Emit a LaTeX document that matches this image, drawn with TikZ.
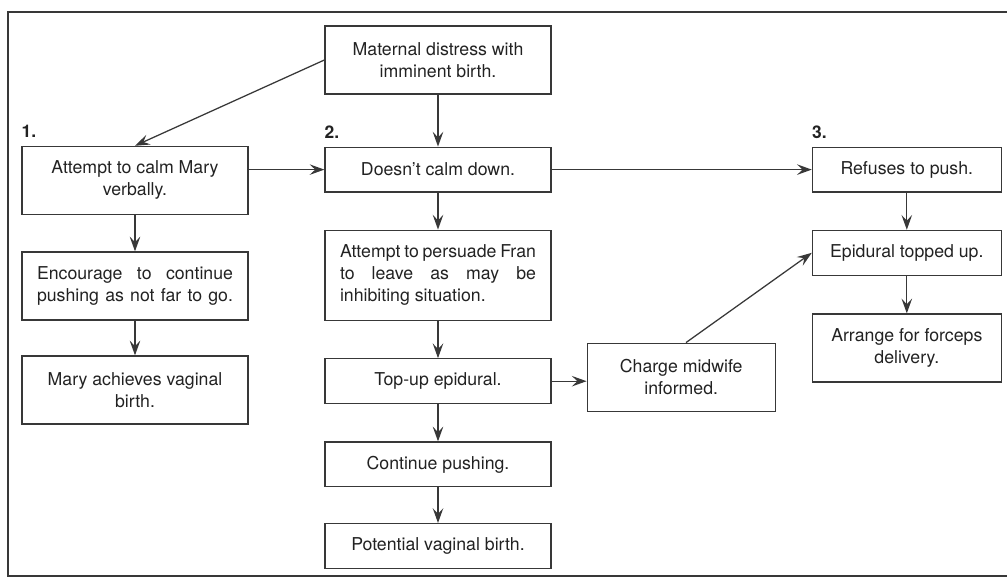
\documentclass[tikz,border=0pt]{standalone}
\usepackage{fontspec}
\setmainfont{TeX Gyre Heros}
\usetikzlibrary{positioning, arrows.meta}
\definecolor{linegray}{HTML}{383838}
\definecolor{textgray}{HTML}{222222}
\tikzstyle{box} = [draw=linegray, line width=0.9pt, rectangle, text=textgray, align=center, minimum width=5.65cm, minimum height=1.12cm, inner sep=2pt, font=\fontsize{12.6}{15.6}\selectfont]
\tikzstyle{tall} = [minimum height=1.7cm]
\tikzstyle{narrow} = [minimum width=4.72cm]
\tikzstyle{numlabel} = [anchor=south west, inner sep=0pt, text=textgray, font=\bfseries\fontsize{12.4}{14}\selectfont]
\tikzstyle{myarrow} = [draw=linegray, line width=0.9pt, -{Stealth[length=10.5pt, width=7.5pt, inset=4pt]}]
\newcommand{\fillline}[1]{\makebox[4.9cm][s]{#1}}

\begin{document}
\begin{tikzpicture}[>=Stealth, node distance=2.64cm, auto]
		\useasboundingbox (0,0) rectangle (25.175,-14.425);
		
		% frame
		\draw[linegray, line width=1pt] (25.6,-0.3) -- (0.2,-0.3) -- (0.2,-14.4) -- (25.6,-14.4);
		
		% column 2
		\node[box, tall] (maternal) at (10.95,-1.5) {Maternal distress with\\imminent birth.};
		\node[box, below of=maternal, node distance=2.74cm] (doesnt) {Doesn't calm down.};
		\node[box, minimum height=2.25cm, below of=doesnt] (fran) {\fillline{Attempt to persuade Fran}\\\fillline{to leave as may be}\\\makebox[4.9cm][l]{inhibiting situation.}};
		\node[box, below of=fran, node distance=2.65cm] (topup) {Top-up epidural.};
		\node[box, below of=topup, node distance=2.08cm] (continue) {Continue pushing.};
		\node[box, below of=continue, node distance=2.04cm] (potential) {Potential vaginal birth.};
		
		% column 1
		\node[box, tall] (calm) at (3.375,-4.51) {Attempt to calm Mary\\verbally.};
		\node[box, tall, below of=calm] (encourage) {\fillline{Encourage to continue}\\\fillline{pushing as not far to go.}};
		\node[box, tall, below of=encourage, node distance=2.6cm] (mary) {Mary achieves vaginal\\birth.};
		
		% column 3
		\node[box, narrow, right of=doesnt, node distance=11.72cm] (refuses) {Refuses to push.};
		\node[box, narrow, below of=refuses, node distance=2.08cm] (epidural) {Epidural topped up.};
		\node[box, narrow, tall, below of=epidural, node distance=2.38cm] (forceps) {Arrange for forceps\\delivery.};
		
		% midwife
		\node[box, tall, minimum width=4.7cm, right of=topup, node distance=6.08cm, yshift=0.1cm] (midwife) {Charge midwife\\informed.};
		
		% numbers
		\node[numlabel] (one) at ([yshift=0.2cm]calm.north west) {1.};
		\node[numlabel] (two) at ([yshift=0.2cm]doesnt.north west) {2.};
		\node[numlabel] (three) at ([yshift=0.2cm]refuses.north west) {3.};
		
		% connections
		\draw [myarrow] (maternal.west) -- (calm.north);
		\draw [myarrow] (maternal) -- (doesnt);
		\draw [myarrow] (doesnt.west -| calm.east) -- (doesnt.west);
		\draw [myarrow] (doesnt) -- (refuses);
		\draw [myarrow] (calm) -- (encourage);
		\draw [myarrow] (encourage) -- (mary);
		\draw [myarrow] (doesnt) -- (fran);
		\draw [myarrow] (fran) -- (topup);
		\draw [myarrow] (topup) -- (continue);
		\draw [myarrow] (continue) -- (potential);
		\draw [myarrow] (topup.east) -- (topup.east -| midwife.west);
		\draw [myarrow] ([xshift=0.12cm]midwife.north) -- (epidural.west);
		\draw [myarrow] (refuses) -- (epidural);
		\draw [myarrow] (epidural) -- (forceps);
		
	\end{tikzpicture}
\end{document}
